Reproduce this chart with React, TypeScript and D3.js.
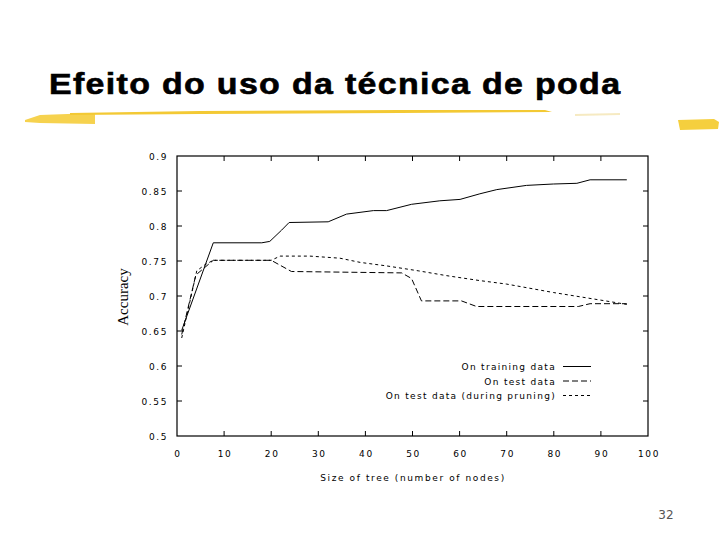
import React from "react";
import * as d3 from "d3";

// values
const trainX = [1, 7.7, 18, 19.7, 22.2, 23.8, 32.1, 36, 41.7, 44.5, 49.8, 55.8, 60.1, 64.3, 67.9, 74.2, 79.9, 84.9, 87.7, 95.5];
const trainY = [0.651, 0.776, 0.776, 0.778, 0.794, 0.805, 0.806, 0.817, 0.822, 0.822, 0.831, 0.836, 0.838, 0.846, 0.852, 0.858, 0.86, 0.861, 0.866, 0.866];

const testX = [1, 4, 7.7, 20, 24.3, 47.7, 49.8, 51.9, 60.4, 63.6, 85.2, 87.7, 95.5];
const testY = [0.645, 0.73, 0.751, 0.751, 0.735, 0.733, 0.725, 0.693, 0.693, 0.685, 0.685, 0.689, 0.689];

const pruneX = [1, 3, 4.2, 6, 7.7, 20, 21.9, 28.2, 34.6, 38.9, 44.5, 51.2, 57.3, 64.3, 70, 79.9, 91.9, 95.5];
const pruneY = [0.64, 0.7, 0.736, 0.745, 0.751, 0.751, 0.757, 0.757, 0.754, 0.748, 0.743, 0.736, 0.729, 0.722, 0.717, 0.705, 0.692, 0.688];

const xTicks = [0, 10, 20, 30, 40, 50, 60, 70, 80, 90, 100];
const yTicks = [0.5, 0.55, 0.6, 0.65, 0.7, 0.75, 0.8, 0.85, 0.9];

const legendLabels = ["On training data", "On test data", "On test data (during pruning)"];
const dashes = ["none", "6,3", "3,3"];

const title = "Efeito do uso da técnica de poda";

const App: React.FC = () => {
  const x = d3.scaleLinear().domain([0, 100]).range([177, 648]);
  const y = d3.scaleLinear().domain([0.5, 0.9]).range([436, 156]);

  const line = d3.line<[number, number]>()
    .x(d => x(d[0]))
    .y(d => y(d[1]));

  const series = [
    d3.zip(trainX, trainY) as [number, number][],
    d3.zip(testX, testY) as [number, number][],
    d3.zip(pruneX, pruneY) as [number, number][],
  ];

  const tickFont = { fontFamily: "DejaVu Sans, sans-serif", fontSize: 9, letterSpacing: 1.6 };
  const sx = 1.17; // title glyphs are wider than plain Arial

  return (
    <svg width={720} height={540} style={{ position: "absolute", left: 0, top: 0, background: "#fff" }}>
      {/* slide title */}
      <g transform={`scale(${sx},1)`}>
        <text x={49 / sx} y={94} textLength={571 / sx} lengthAdjust="spacing"
          stroke="#000" strokeWidth={0.6}
          style={{ fontFamily: "Liberation Sans, Arial, sans-serif", fontWeight: "bold", fontSize: 29 }}>
          {title}
        </text>
      </g>

      {/* yellow highlighter strokes */}
      <path d="M25,120 L40,115 L95,113 L95,124 L40,123 L25,122 Z" fill="#f6d24e" />
      <path d="M70,113 L200,111 L400,110 L545,110 L552,112 L400,113 L200,114 L70,115 Z" fill="#f3c934" />
      <path d="M575,114 L620,113 L620,115 L575,116 Z" fill="#f0dc9a" opacity={0.6} />
      <path d="M678,120 L714,119 L719,122 L718,129 L680,130 Z" fill="#f5cf3e" />

      {/* frame */}
      <rect x={177} y={156} width={471} height={280} fill="none" stroke="#000" strokeWidth={1.2} />

      {/* ticks on all four sides */}
      {xTicks.slice(1, -1).map(t => (
        <g key={"xt" + t} stroke="#000" strokeWidth={1}>
          <line x1={x(t)} x2={x(t)} y1={436} y2={431} />
          <line x1={x(t)} x2={x(t)} y1={156} y2={161} />
        </g>
      ))}
      {yTicks.slice(1, -1).map(t => (
        <g key={"yt" + t} stroke="#000" strokeWidth={1}>
          <line x1={177} x2={182} y1={y(t)} y2={y(t)} />
          <line x1={648} x2={643} y1={y(t)} y2={y(t)} />
        </g>
      ))}

      {/* tick labels */}
      {xTicks.map(t => (
        <text key={"xl" + t} x={x(t) + 1} y={457} textAnchor="middle" style={tickFont}>{t}</text>
      ))}
      {yTicks.map(t => (
        <text key={"yl" + t} x={168} y={y(t) + 3.5} textAnchor="end" style={tickFont}>
          {d3.format("")(t)}
        </text>
      ))}

      {/* axis titles */}
      <text x={413} y={481} textAnchor="middle" style={tickFont}>Size of tree (number of nodes)</text>
      <text transform={`translate(128,297) rotate(-90)`} textAnchor="middle"
        style={{ fontFamily: "Liberation Serif, Times New Roman, serif", fontSize: 15 }}>
        Accuracy
      </text>

      {/* data lines */}
      {series.map((s, i) => (
        <path key={"s" + i} d={line(s) || ""} fill="none" stroke="#000" strokeWidth={1}
          strokeDasharray={dashes[i]} />
      ))}

      {/* legend */}
      {legendLabels.map((l, i) => (
        <g key={"lg" + i}>
          <text x={556} y={370 + i * 14.5} textAnchor="end" style={{ ...tickFont, letterSpacing: 1.3 }}>{l}</text>
          <line x1={563} x2={591} y1={366.5 + i * 14.5} y2={366.5 + i * 14.5} stroke="#000"
            strokeWidth={1} strokeDasharray={dashes[i]} />
        </g>
      ))}

      {/* page number */}
      <text x={666} y={519} textAnchor="middle"
        style={{ fontFamily: "DejaVu Sans, sans-serif", fontSize: 12, fill: "#555" }}>32</text>
    </svg>
  );
};

export default App;
